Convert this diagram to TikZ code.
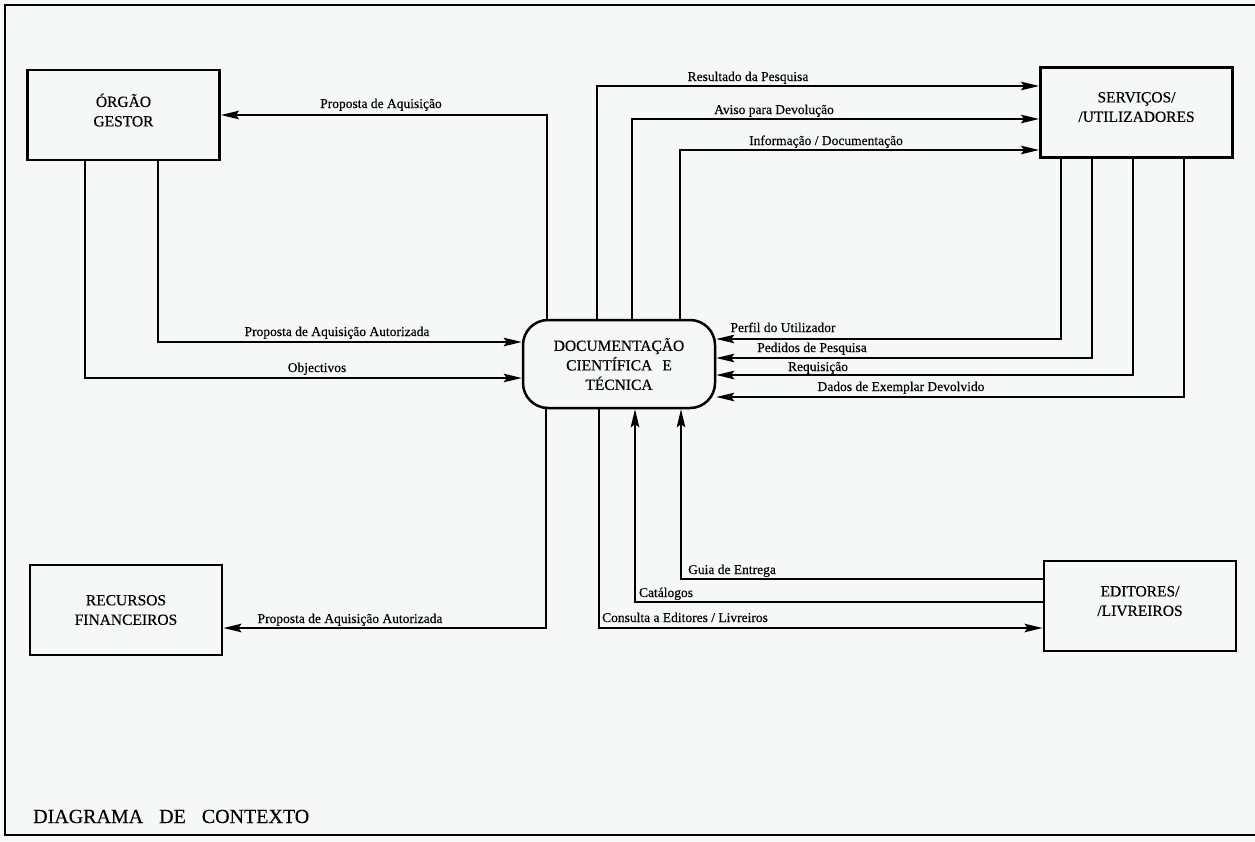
\documentclass[tikz,border=0pt]{standalone}
\usepackage{fontspec}
\setmainfont{Liberation Serif}[FakeBold=0.35]
\usepackage{tikz}
\usetikzlibrary{arrows.meta}
\usetikzlibrary{positioning}
\definecolor{paper}{RGB}{246,247,247}
\tikzset{
box/.style={
	rectangle,
	minimum width=192pt,
	minimum height=90pt,
	text centered,
	align=center,
	draw=black,
	line width=2.9pt,
	font=\fontsize{15.5}{19.5}\selectfont,
	inner sep=2pt
},
roundbox/.style={
	rectangle,
	rounded corners=25pt,
	minimum width=192pt,
	minimum height=88pt,
	align=center,
	draw=black,
	line width=2.5pt,
	font=\fontsize{15.5}{19.5}\selectfont,
	inner sep=2pt
},
arrow/.style={
	-{Stealth[length=18pt,width=8.5pt,inset=3pt]},
	draw=black,
	line width=1.7pt,
	line join=miter
}
}

\begin{document}
\begin{tikzpicture}[
  x=1pt, y=-1pt,
  lbl/.style={
    anchor=base,
    inner sep=0pt,
    font=\fontsize{13.5}{16}\selectfont
  }
]

\useasboundingbox (0,0) rectangle (1255,841);
\fill[paper] (0,0) rectangle (1255,841);
\draw[line width=1.9pt] (5,5) rectangle (1262,835);

\node (Gestor) [box, text depth=10pt] at (123.5,115) {ÓRGÃO\\GESTOR};
\node (Servicos) [box, text depth=11pt] at (1136.5,112.5) {SERVIÇOS/\\/UTILIZADORES};
\node (Doc) [roundbox] at (619,364) {DOCUMENTAÇÃO\\CIENTÍFICA\hspace{0.4em} E\\TÉCNICA};
\node (Recursos) [box] at (126,610) {RECURSOS\\FINANCEIROS};
\node (Editores) [box, text depth=10pt] at (1140,606) {EDITORES/\\/LIVREIROS};

% Doc <-> Gestor
\draw[arrow] ([xshift=-72pt]Doc.north) |- (Gestor.east);
\draw[arrow] ([xshift=34.5pt]Gestor.south) |- ([yshift=22pt]Doc.west);
\draw[arrow] ([xshift=-38.5pt]Gestor.south) |- ([yshift=-14pt]Doc.west);

% Doc -> Servicos
\draw[arrow] ([xshift=-22pt]Doc.north) |- ([yshift=26.5pt]Servicos.west);
\draw[arrow] ([xshift=13pt]Doc.north) |- ([yshift=-6.5pt]Servicos.west);
\draw[arrow] ([xshift=61pt]Doc.north) |- ([yshift=-37.5pt]Servicos.west);

% Servicos -> Doc
\draw[arrow] ([xshift=-75.5pt]Servicos.south) |- ([yshift=25pt]Doc.east);
\draw[arrow] ([xshift=-44.5pt]Servicos.south) |- ([yshift=6pt]Doc.east);
\draw[arrow] ([xshift=-3.5pt]Servicos.south) |- ([yshift=-11pt]Doc.east);
\draw[arrow] ([xshift=47.5pt]Servicos.south) |- ([yshift=-33pt]Doc.east);

% Doc -> Recursos, Doc <-> Editores
\draw[arrow] ([xshift=-73pt]Doc.south) |- ([yshift=-18pt]Recursos.east);
\draw[arrow] ([xshift=-20pt]Doc.south) |- ([yshift=-22pt]Editores.west);
\draw[arrow] ([yshift=4pt]Editores.west) -| ([xshift=16pt]Doc.south);
\draw[arrow] ([yshift=27pt]Editores.west) -| ([xshift=62pt]Doc.south);

% flow labels
\node (lPropostaAq) [lbl] at (381,108) {Proposta de Aquisição};
\node (lAutorizada) [lbl] at (337,336) {Proposta de Aquisição Autorizada};
\node (lObjectivos) [lbl] at (317,372) {Objectivos};
\node (lResultado) [lbl] at (748,81) {Resultado da Pesquisa};
\node (lAviso) [lbl] at (774,114) {Aviso para Devolução};
\node (lInformacao) [lbl] at (826,145) {Informação / Documentação};
\node (lPerfil) [lbl] at (783,332) {Perfil do Utilizador};
\node (lPedidos) [lbl] at (812,352) {Pedidos de Pesquisa};
\node (lRequisicao) [lbl] at (818,371) {Requisição};
\node (lDados) [lbl] at (901,391) {Dados de Exemplar Devolvido};
\node (lAutorizadaRec) [lbl] at (350,623) {Proposta de Aquisição Autorizada};
\node (lConsulta) [lbl] at (685,622) {Consulta a Editores / Livreiros};
\node (lCatalogos) [lbl] at (666,597) {Catálogos};
\node (lGuia) [lbl] at (732,574) {Guia de Entrega};

\node (Titulo) [anchor=base west, inner sep=0pt, font=\fontsize{20}{24}\selectfont] at (33,823) {DIAGRAMA\hspace{0.55em} DE\hspace{0.55em} CONTEXTO};

\end{tikzpicture}
\end{document}
